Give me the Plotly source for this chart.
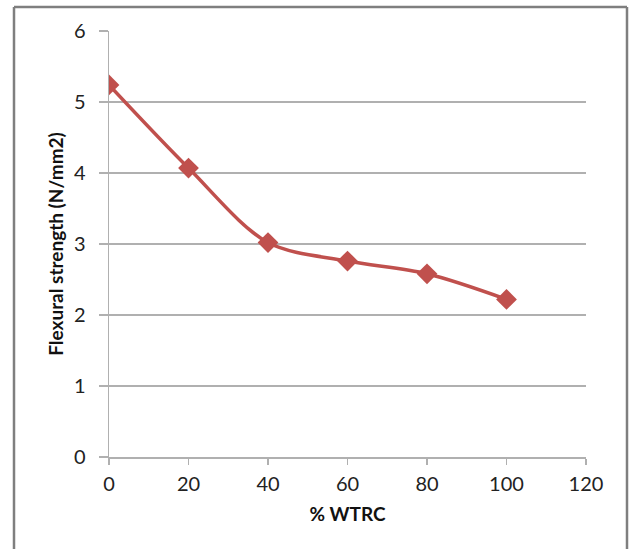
import plotly.graph_objects as go

wtrc = [0, 20, 40, 60, 80, 100]
flexural = [5.24, 4.07, 3.02, 2.76, 2.58, 2.22]
x_ticks = [0, 20, 40, 60, 80, 100, 120]
y_ticks = [0, 1, 2, 3, 4, 5, 6]

RED = "#C0504D"
GRID = "#B0B0B0"
FONT = "Lato"

fig = go.Figure()
fig.add_trace(go.Scatter(
    x=wtrc, y=flexural, mode="lines+markers",
    line=dict(color=RED, width=3.5, shape="spline", smoothing=0.9),
    marker=dict(symbol="diamond", size=16, color=RED),
    showlegend=False, hoverinfo="skip",
))

W, H = 629, 549
L, R, T, B = 109, 43, 31, 92
pw, ph = W - L - R, H - T - B

def px_x(p):
    return (p - L) / pw

def px_y(p):
    return (H - B - p) / ph

fig.update_layout(
    width=W, height=H,
    margin=dict(l=L, r=R, t=T, b=B, pad=0),
    paper_bgcolor="white", plot_bgcolor="white",
    font=dict(family=FONT, size=20, color="#222222"),
    xaxis=dict(
        range=[0, 120], tickvals=x_ticks, showgrid=False, zeroline=False,
        showline=True, linecolor=GRID, linewidth=1.5,
        ticks="outside", ticklen=6, tickcolor=GRID, tickwidth=1.5,
        ticklabelstandoff=2,
        title=dict(text="<b>% WTRC</b>", font=dict(family=FONT, size=19, color="#111111"), standoff=14),
    ),
    yaxis=dict(
        range=[0, 6], tickvals=y_ticks, showgrid=True, gridcolor=GRID, gridwidth=1.5,
        zeroline=False, showline=True, linecolor=GRID, linewidth=1.5,
        ticks="outside", ticklen=9, tickcolor=GRID, tickwidth=1.5,
        ticklabelstandoff=9,
        title=dict(text="<b>Flexural strength (N/mm2)</b>", font=dict(family=FONT, size=19, color="#111111"), standoff=5),
    ),
)

# outer chart border (left, top, right edges; bottom runs past the canvas)
border = dict(color="#7F7F7F", width=2.5)
for x0, y0, x1, y1 in [(14, 7, 14, 560), (14, 7, 627, 7), (627, 7, 627, 560)]:
    fig.add_shape(type="line", xref="paper", yref="paper",
                  x0=px_x(x0), y0=px_y(y0), x1=px_x(x1), y1=px_y(y1),
                  line=border, layer="above")

fig.write_html(
    "out.html",
    config={"displayModeBar": False, "staticPlot": True},
    post_script="document.body.style.margin='0';document.body.style.overflow='hidden';",
)
